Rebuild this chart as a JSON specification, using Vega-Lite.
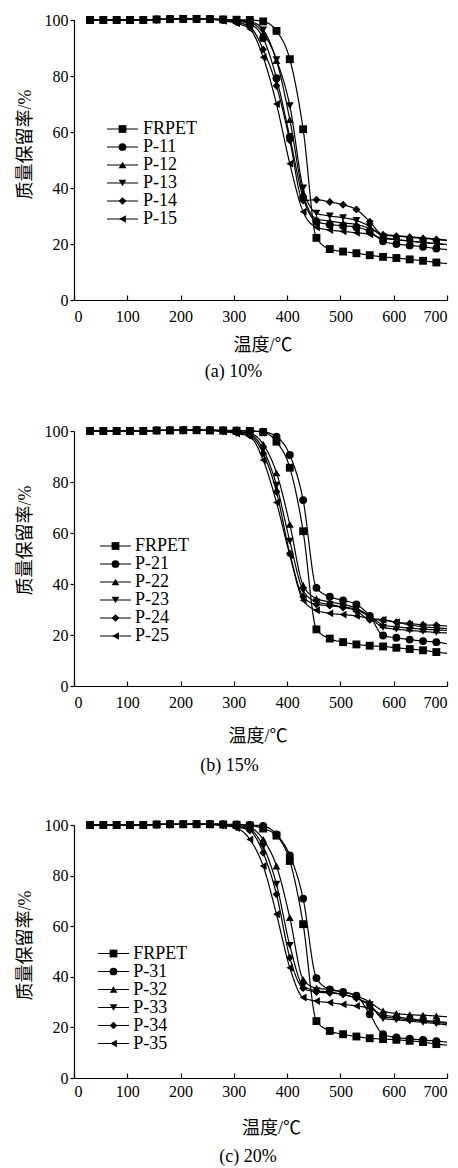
{
  "$schema": "https://vega.github.io/schema/vega-lite/v6.json",
  "background": "white",
  "padding": {"left": 16, "top": 12, "right": 0, "bottom": 0},
  "autosize": {"type": "pad"},
  "spacing": 42,
  "config": {
    "view": {"stroke": null},
    "axis": {"grid": false, "domainColor": "black", "tickColor": "black", "labelColor": "black", "titleColor": "black", "labelFont": "Liberation Serif", "labelFontSize": 16, "titleFont": "Liberation Serif, Noto Sans CJK SC", "titleFontSize": 18, "titleFontWeight": "normal", "domainWidth": 1.2, "tickWidth": 1.2},
    "legend": {"labelFont": "Liberation Serif", "labelFontSize": 18, "labelColor": "black", "padding": 0, "symbolOffset": 0, "rowPadding": -0.5, "symbolSize": 60, "orient": "none"},
    "title": {"font": "Liberation Serif", "fontSize": 18, "fontWeight": "normal", "color": "black", "orient": "bottom", "frame": "group"}
  },
  "datasets": {
    "a": [
      {"T":30,"FRPET":100,"P-11":100,"P-12":100,"P-13":100,"P-14":100,"P-15":100},
      {"T":55,"FRPET":100,"P-11":100,"P-12":100,"P-13":100,"P-14":100,"P-15":100},
      {"T":80,"FRPET":100,"P-11":100,"P-12":100,"P-13":100,"P-14":100,"P-15":100},
      {"T":105,"FRPET":100,"P-11":100,"P-12":100,"P-13":100,"P-14":100,"P-15":100},
      {"T":130,"FRPET":100,"P-11":100,"P-12":100,"P-13":100,"P-14":100,"P-15":100},
      {"T":155,"FRPET":100.2,"P-11":100.2,"P-12":100.2,"P-13":100.2,"P-14":100.2,"P-15":100.2},
      {"T":180,"FRPET":100.3,"P-11":100.3,"P-12":100.3,"P-13":100.3,"P-14":100.3,"P-15":100.3},
      {"T":205,"FRPET":100.4,"P-11":100.4,"P-12":100.4,"P-13":100.4,"P-14":100.4,"P-15":100.4},
      {"T":230,"FRPET":100.4,"P-11":100.4,"P-12":100.4,"P-13":100.4,"P-14":100.4,"P-15":100.4},
      {"T":255,"FRPET":100.3,"P-11":100.3,"P-12":100.3,"P-13":100.3,"P-14":100.3,"P-15":100.3},
      {"T":280,"FRPET":100.2,"P-11":100.1,"P-12":100.2,"P-13":100.2,"P-14":99.9,"P-15":99.7},
      {"T":305,"FRPET":100.1,"P-11":99.6,"P-12":99.8,"P-13":99.9,"P-14":99.2,"P-15":98.8},
      {"T":330,"FRPET":100,"P-11":98.6,"P-12":99.2,"P-13":99.5,"P-14":97.6,"P-15":96.8},
      {"T":355,"FRPET":99.5,"P-11":93.5,"P-12":95.2,"P-13":96.5,"P-14":89.5,"P-15":86.7},
      {"T":380,"FRPET":96.1,"P-11":79.2,"P-12":85.5,"P-13":85.8,"P-14":76.5,"P-15":70},
      {"T":405,"FRPET":86,"P-11":58.2,"P-12":64.4,"P-13":69.4,"P-14":57,"P-15":48.7},
      {"T":430,"FRPET":61,"P-11":36.5,"P-12":38,"P-13":40,"P-14":35.5,"P-15":31.5},
      {"T":455,"FRPET":22.2,"P-11":28,"P-12":29,"P-13":31,"P-14":35.8,"P-15":26},
      {"T":480,"FRPET":18.2,"P-11":27,"P-12":28.2,"P-13":30,"P-14":35,"P-15":25},
      {"T":505,"FRPET":17.3,"P-11":26.5,"P-12":27.5,"P-13":29.4,"P-14":34,"P-15":24.5},
      {"T":530,"FRPET":16.7,"P-11":26,"P-12":27,"P-13":28.4,"P-14":32.3,"P-15":24},
      {"T":555,"FRPET":16,"P-11":24.5,"P-12":25.5,"P-13":26.2,"P-14":28,"P-15":23.5},
      {"T":580,"FRPET":15.4,"P-11":21,"P-12":23.5,"P-13":22.6,"P-14":23.2,"P-15":22},
      {"T":605,"FRPET":15,"P-11":20,"P-12":23,"P-13":21.6,"P-14":22.8,"P-15":21.5},
      {"T":630,"FRPET":14.5,"P-11":19.5,"P-12":22.6,"P-13":21.1,"P-14":22.4,"P-15":21},
      {"T":655,"FRPET":14,"P-11":19,"P-12":22.2,"P-13":20.6,"P-14":22,"P-15":20.5},
      {"T":680,"FRPET":13.4,"P-11":18.4,"P-12":21.8,"P-13":20.1,"P-14":21.6,"P-15":20.1},
      {"T":700,"FRPET":13,"P-11":18,"P-12":21.4,"P-13":19.8,"P-14":21.2,"P-15":19.8}
    ],
    "b": [
      {"T":30,"FRPET":100,"P-21":100,"P-22":100,"P-23":100,"P-24":100,"P-25":100},
      {"T":55,"FRPET":100,"P-21":100,"P-22":100,"P-23":100,"P-24":100,"P-25":100},
      {"T":80,"FRPET":100,"P-21":100,"P-22":100,"P-23":100,"P-24":100,"P-25":100},
      {"T":105,"FRPET":100,"P-21":100,"P-22":100,"P-23":100,"P-24":100,"P-25":100},
      {"T":130,"FRPET":100,"P-21":100,"P-22":100,"P-23":100,"P-24":100,"P-25":100},
      {"T":155,"FRPET":100.2,"P-21":100.2,"P-22":100.2,"P-23":100.2,"P-24":100.2,"P-25":100.2},
      {"T":180,"FRPET":100.2,"P-21":100.3,"P-22":100.3,"P-23":100.3,"P-24":100.3,"P-25":100.3},
      {"T":205,"FRPET":100.3,"P-21":100.3,"P-22":100.3,"P-23":100.3,"P-24":100.3,"P-25":100.3},
      {"T":230,"FRPET":100.3,"P-21":100.4,"P-22":100.3,"P-23":100.3,"P-24":100.3,"P-25":100.3},
      {"T":255,"FRPET":100.2,"P-21":100.4,"P-22":100.3,"P-23":100.3,"P-24":100.2,"P-25":100.2},
      {"T":280,"FRPET":100.2,"P-21":100.3,"P-22":100.1,"P-23":100,"P-24":99.9,"P-25":99.8},
      {"T":305,"FRPET":100.1,"P-21":100.2,"P-22":99.8,"P-23":99.6,"P-24":99.3,"P-25":99},
      {"T":330,"FRPET":100,"P-21":100,"P-22":99.2,"P-23":98.8,"P-24":98.3,"P-25":97.8},
      {"T":355,"FRPET":99.5,"P-21":99.7,"P-22":94.8,"P-23":92.8,"P-24":91.2,"P-25":88.6},
      {"T":380,"FRPET":95.8,"P-21":97.8,"P-22":83.6,"P-23":78.8,"P-24":76.2,"P-25":72},
      {"T":405,"FRPET":85.6,"P-21":90.6,"P-22":63.4,"P-23":56.8,"P-24":52,"P-25":51.3},
      {"T":430,"FRPET":60.7,"P-21":72.9,"P-22":39.5,"P-23":37.5,"P-24":35,"P-25":33.6},
      {"T":455,"FRPET":22.2,"P-21":38.5,"P-22":34.3,"P-23":33,"P-24":32,"P-25":29.7},
      {"T":480,"FRPET":18.6,"P-21":35,"P-22":33,"P-23":32,"P-24":31.5,"P-25":28.5},
      {"T":505,"FRPET":17.2,"P-21":33.6,"P-22":32,"P-23":31,"P-24":30.8,"P-25":28},
      {"T":530,"FRPET":16.3,"P-21":32,"P-22":30.5,"P-23":30,"P-24":29.5,"P-25":27.5},
      {"T":555,"FRPET":15.8,"P-21":27.5,"P-22":27.5,"P-23":27,"P-24":26,"P-25":26.5},
      {"T":580,"FRPET":15.5,"P-21":19.8,"P-22":24,"P-23":23,"P-24":25.8,"P-25":26},
      {"T":605,"FRPET":15,"P-21":18.9,"P-22":23.2,"P-23":22.3,"P-24":25,"P-25":25},
      {"T":630,"FRPET":14.5,"P-21":18.2,"P-22":22.7,"P-23":21.8,"P-24":24.5,"P-25":24},
      {"T":655,"FRPET":14,"P-21":17.6,"P-22":22.3,"P-23":21.4,"P-24":24,"P-25":23.2},
      {"T":680,"FRPET":13.3,"P-21":17.2,"P-22":22,"P-23":21,"P-24":23.8,"P-25":22.8},
      {"T":700,"FRPET":12.8,"P-21":16.6,"P-22":21.8,"P-23":20.8,"P-24":23.5,"P-25":22.5}
    ],
    "c": [
      {"T":30,"FRPET":100,"P-31":100,"P-32":100,"P-33":100,"P-34":100,"P-35":100},
      {"T":55,"FRPET":100,"P-31":100,"P-32":100,"P-33":100,"P-34":100,"P-35":100},
      {"T":80,"FRPET":100,"P-31":100,"P-32":100,"P-33":100,"P-34":100,"P-35":100},
      {"T":105,"FRPET":100,"P-31":100,"P-32":100,"P-33":100,"P-34":100,"P-35":100},
      {"T":130,"FRPET":100,"P-31":100,"P-32":100,"P-33":100,"P-34":100,"P-35":100},
      {"T":155,"FRPET":100.2,"P-31":100.2,"P-32":100.2,"P-33":100.2,"P-34":100.2,"P-35":100.2},
      {"T":180,"FRPET":100.3,"P-31":100.3,"P-32":100.3,"P-33":100.3,"P-34":100.3,"P-35":100.3},
      {"T":205,"FRPET":100.3,"P-31":100.3,"P-32":100.3,"P-33":100.3,"P-34":100.3,"P-35":100.3},
      {"T":230,"FRPET":100.3,"P-31":100.4,"P-32":100.4,"P-33":100.3,"P-34":100.3,"P-35":100.3},
      {"T":255,"FRPET":100.3,"P-31":100.4,"P-32":100.4,"P-33":100.3,"P-34":100.2,"P-35":100.2},
      {"T":280,"FRPET":100.2,"P-31":100.3,"P-32":100.2,"P-33":100,"P-34":99.9,"P-35":99.8},
      {"T":305,"FRPET":100.1,"P-31":100.2,"P-32":99.8,"P-33":99.5,"P-34":99.2,"P-35":98.8},
      {"T":330,"FRPET":99.8,"P-31":100,"P-32":99,"P-33":98.3,"P-34":97.8,"P-35":94.3},
      {"T":355,"FRPET":98.6,"P-31":99.6,"P-32":94.3,"P-33":91.5,"P-34":89,"P-35":83.8},
      {"T":380,"FRPET":95.8,"P-31":96.3,"P-32":83.8,"P-33":76.6,"P-34":72.6,"P-35":64.7},
      {"T":405,"FRPET":85.8,"P-31":88,"P-32":63.4,"P-33":52.4,"P-34":47.6,"P-35":43.6},
      {"T":430,"FRPET":60.8,"P-31":70.9,"P-32":39,"P-33":36.5,"P-34":35.5,"P-35":31.8},
      {"T":455,"FRPET":22.5,"P-31":39.5,"P-32":35.5,"P-33":34.5,"P-34":34,"P-35":30.4},
      {"T":480,"FRPET":18.6,"P-31":35,"P-32":35,"P-33":34,"P-34":33.6,"P-35":29.8},
      {"T":505,"FRPET":17.3,"P-31":34,"P-32":34,"P-33":33,"P-34":33,"P-35":29.1},
      {"T":530,"FRPET":16.4,"P-31":32.5,"P-32":32.5,"P-33":31.5,"P-34":31.5,"P-35":28.5},
      {"T":555,"FRPET":15.7,"P-31":25.2,"P-32":30,"P-33":29,"P-34":28.6,"P-35":27.5},
      {"T":580,"FRPET":15.4,"P-31":17.3,"P-32":26.5,"P-33":23.5,"P-34":24.2,"P-35":25},
      {"T":605,"FRPET":15.1,"P-31":16,"P-32":25.5,"P-33":23,"P-34":23.6,"P-35":24.2},
      {"T":630,"FRPET":14.7,"P-31":15.5,"P-32":25,"P-33":22.5,"P-34":23,"P-35":23.4},
      {"T":655,"FRPET":14.2,"P-31":15,"P-32":24.8,"P-33":22,"P-34":22.6,"P-35":22.8},
      {"T":680,"FRPET":13.4,"P-31":14.6,"P-32":24.5,"P-33":21.5,"P-34":22,"P-35":22.3},
      {"T":700,"FRPET":13,"P-31":14.2,"P-32":24.2,"P-33":21,"P-34":21.6,"P-35":22}
    ]
  },
  "vconcat": [
    {
      "width": 373, "height": 280,
      "data": {"name": "a"},
      "transform": [{"fold": ["FRPET","P-11","P-12","P-13","P-14","P-15"], "as": ["series","v"]}],
      "title": {"text": "(a) 10%", "dx": -27, "offset": 9},
      "encoding": {
        "x": {"field": "T", "type": "quantitative", "scale": {"domain": [0,700], "nice": false}, "axis": {"values": [0,100,200,300,400,500,600,700], "title": "温度/℃", "tickSize": -5, "labelPadding": 13, "titlePadding": 12, "titleX": 188.5}},
        "y": {"field": "v", "type": "quantitative", "scale": {"domain": [0,100], "nice": false}, "axis": {"values": [0,20,40,60,80,100], "title": "质量保留率/%", "tickSize": 4, "labelPadding": 2, "titlePadding": 10, "titleY": 124}}
      },
      "layer": [
        {"mark": {"type": "line", "interpolate": "monotone", "color": "black", "strokeWidth": 1.2},
         "encoding": {"strokeDash": {"field": "series", "type": "nominal", "scale": {"range": [[1,0],[1,0],[1,0],[1,0],[1,0],[1,0]]},
           "legend": {"title": null, "legendX": 39.5, "legendY": 100, "labelOffset": 11.5, "labelFontSize": 18, "labelOpacity": 0, "symbolType": "M-4,0H4", "symbolStrokeColor": "black", "symbolStrokeWidth": 1.1}}}},
        {"transform": [{"filter": "datum.T <= 680"}],
         "mark": {"type": "point", "filled": true, "color": "black", "size": 62, "opacity": 1},
         "encoding": {"shape": {"field": "series", "type": "nominal",
           "scale": {"domain": ["FRPET","P-11","P-12","P-13","P-14","P-15"], "range": ["square","circle","triangle-up","triangle-down","diamond","triangle-left"]},
           "legend": {"title": null, "legendX": 39.5, "legendY": 100, "labelOffset": 11.5, "labelFontSize": 18}}}}
      ]
    },
    {
      "width": 373, "height": 255,
      "data": {"name": "b"},
      "transform": [{"fold": ["FRPET","P-21","P-22","P-23","P-24","P-25"], "as": ["series","v"]}],
      "title": {"text": "(b) 15%", "dx": -31, "offset": 11},
      "encoding": {
        "x": {"field": "T", "type": "quantitative", "scale": {"domain": [0,700], "nice": false}, "axis": {"values": [0,100,200,300,400,500,600,700], "title": "温度/℃", "tickSize": -5, "labelPadding": 13, "titlePadding": 17.5, "titleX": 183.5}},
        "y": {"field": "v", "type": "quantitative", "scale": {"domain": [0,100], "nice": false}, "axis": {"values": [0,20,40,60,80,100], "title": "质量保留率/%", "tickSize": 4, "labelPadding": 2, "titlePadding": 10, "titleY": 109}}
      },
      "layer": [
        {"mark": {"type": "line", "interpolate": "monotone", "color": "black", "strokeWidth": 1.2},
         "encoding": {"strokeDash": {"field": "series", "type": "nominal", "scale": {"range": [[1,0],[1,0],[1,0],[1,0],[1,0],[1,0]]},
           "legend": {"title": null, "legendX": 32.5, "legendY": 106, "labelOffset": 10.5, "labelFontSize": 18, "labelOpacity": 0, "symbolType": "M-4,0H4", "symbolStrokeColor": "black", "symbolStrokeWidth": 1.1}}}},
        {"transform": [{"filter": "datum.T <= 680"}],
         "mark": {"type": "point", "filled": true, "color": "black", "size": 62, "opacity": 1},
         "encoding": {"shape": {"field": "series", "type": "nominal",
           "scale": {"domain": ["FRPET","P-21","P-22","P-23","P-24","P-25"], "range": ["square","circle","triangle-up","triangle-down","diamond","triangle-left"]},
           "legend": {"title": null, "legendX": 32.5, "legendY": 106, "labelOffset": 10.5, "labelFontSize": 18}}}}
      ]
    },
    {
      "width": 373, "height": 253,
      "data": {"name": "c"},
      "transform": [{"fold": ["FRPET","P-31","P-32","P-33","P-34","P-35"], "as": ["series","v"]}],
      "title": {"text": "(c) 20%", "dx": -12.5, "offset": 10},
      "encoding": {
        "x": {"field": "T", "type": "quantitative", "scale": {"domain": [0,700], "nice": false}, "axis": {"values": [0,100,200,300,400,500,600,700], "title": "温度/℃", "tickSize": -5, "labelPadding": 10, "titlePadding": 20.5, "titleX": 197}},
        "y": {"field": "v", "type": "quantitative", "scale": {"domain": [0,100], "nice": false}, "axis": {"values": [0,20,40,60,80,100], "title": "质量保留率/%", "tickSize": 4, "labelPadding": 2, "titlePadding": 10, "titleY": 120}}
      },
      "layer": [
        {"mark": {"type": "line", "interpolate": "monotone", "color": "black", "strokeWidth": 1.2},
         "encoding": {"strokeDash": {"field": "series", "type": "nominal", "scale": {"range": [[1,0],[1,0],[1,0],[1,0],[1,0],[1,0]]},
           "legend": {"title": null, "legendX": 30.5, "legendY": 119.5, "labelOffset": 10.8, "labelFontSize": 18, "labelOpacity": 0, "symbolType": "M-4,0H4", "symbolStrokeColor": "black", "symbolStrokeWidth": 1.1}}}},
        {"transform": [{"filter": "datum.T <= 680"}],
         "mark": {"type": "point", "filled": true, "color": "black", "size": 62, "opacity": 1},
         "encoding": {"shape": {"field": "series", "type": "nominal",
           "scale": {"domain": ["FRPET","P-31","P-32","P-33","P-34","P-35"], "range": ["square","circle","triangle-up","triangle-down","diamond","triangle-left"]},
           "legend": {"title": null, "legendX": 30.5, "legendY": 119.5, "labelOffset": 10.8, "labelFontSize": 18}}}}
      ]
    }
  ],
  "resolve": {"scale": {"shape": "independent", "strokeDash": "independent"}, "legend": {"shape": "independent", "strokeDash": "independent"}}
}
